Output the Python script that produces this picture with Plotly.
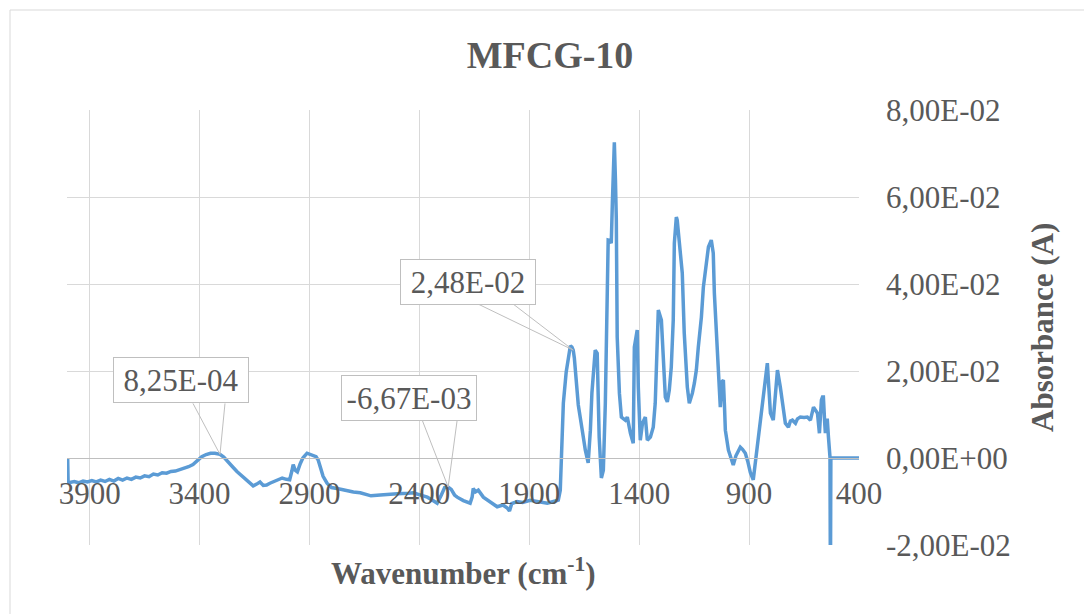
import plotly.graph_objects as go

# ---- data ----
wavenumber = [
    4000, 3998, 3990, 3970, 3950, 3930, 3910, 3890, 3870, 3850, 3830, 3810, 3790, 3770, 3750,
    3730, 3710, 3690, 3670, 3650, 3630, 3610, 3590, 3570, 3550, 3530, 3510, 3490, 3470, 3450,
    3430, 3410, 3390, 3370, 3350, 3330, 3307, 3290, 3270, 3250, 3230, 3210, 3190, 3170, 3156,
    3140, 3125, 3110, 3095, 3080, 3060, 3040, 3024, 3005, 2990, 2980, 2974, 2965, 2955, 2942,
    2930, 2911, 2895, 2883, 2870, 2860, 2845, 2838, 2820, 2800, 2774, 2750, 2700, 2669, 2620,
    2578, 2540, 2500, 2450, 2428, 2390, 2364, 2340, 2319, 2300, 2285, 2269, 2255, 2240, 2228,
    2200, 2169, 2160, 2155, 2145, 2132, 2109, 2080, 2046, 2020, 2000, 1990, 1980, 1955, 1930,
    1896, 1860, 1818, 1790, 1768, 1759, 1752, 1747, 1745, 1732, 1723, 1713, 1706, 1700, 1695,
    1686, 1677, 1659, 1645, 1632, 1622, 1615, 1609, 1600, 1591, 1582, 1572, 1563, 1554, 1545,
    1541, 1534, 1527, 1522, 1513, 1508, 1504, 1500, 1490, 1481, 1472, 1463, 1454, 1440, 1427,
    1422, 1409, 1404, 1395, 1385, 1372, 1363, 1349, 1336, 1327, 1318, 1313, 1299, 1290, 1281,
    1272, 1263, 1254, 1245, 1240, 1231, 1227, 1218, 1204, 1195, 1186, 1181, 1172, 1158, 1149,
    1140, 1131, 1117, 1108, 1095, 1085, 1072, 1063, 1058, 1049, 1040, 1031, 1024, 1017, 1012,
    1008, 994, 972, 960, 949, 940, 930, 917, 905, 894, 881, 870, 862, 849, 835,
    817, 810, 803, 790, 780, 771, 758, 745, 735, 721, 712, 703, 689, 680, 667,
    650, 635, 621, 607, 598, 589, 580, 575, 571, 566, 562, 556, 553, 548, 544,
    539, 532, 530, 528, 400,
]
absorbance = [
    0.0000, -0.0055, -0.0056, -0.0054, -0.0057, -0.0053, -0.0055, -0.0052, -0.0055, -0.0051, -0.0054, -0.0049, -0.0053, -0.0047, -0.0051,
    -0.0046, -0.0049, -0.0044, -0.0046, -0.0041, -0.0043, -0.0037, -0.0039, -0.0034, -0.0035, -0.0031, -0.0030, -0.0027, -0.0025, -0.0020,
    -0.0015, -0.0005, 0.0003, 0.0008, 0.0011, 0.0011, 0.000825, 0.0002, -0.0008, -0.0020, -0.0031, -0.0040, -0.0047, -0.0058, -0.0064,
    -0.0060, -0.0055, -0.0063, -0.0062, -0.0058, -0.0054, -0.0051, -0.0046, -0.0049, -0.0050, -0.0030, -0.0015, -0.0028, -0.0032, -0.0013,
    0.0000, 0.0011, 0.0008, 0.0005, 0.0003, -0.0005, -0.0030, -0.0042, -0.0058, -0.0068, -0.0070, -0.0073, -0.0078, -0.0080, -0.0087,
    -0.0085, -0.0083, -0.0082, -0.0081, -0.0080, -0.0086, -0.0090, -0.0097, -0.0104, -0.0085, -0.0068, -0.00667, -0.0072, -0.0085, -0.0090,
    -0.0098, -0.0104, -0.0090, -0.0070, -0.0078, -0.0074, -0.0090, -0.0100, -0.0112, -0.0108, -0.0115, -0.0122, -0.0105, -0.0100, -0.0102,
    -0.0097, -0.0100, -0.0104, -0.0100, -0.0097, -0.0074, 0.0011, 0.0080, 0.0126, 0.0198, 0.0230, 0.0258, 0.0255, 0.0248, 0.0230,
    0.0163, 0.0122, 0.0064, 0.0018, -0.0011, 0.0064, 0.0150, 0.0186, 0.0248, 0.0241, 0.0048, -0.0046, -0.0028, 0.0126, 0.0347,
    0.0501, 0.0500, 0.0494, 0.0586, 0.0726, 0.0640, 0.0547, 0.0278, 0.0149, 0.0094, 0.0090, 0.0087, 0.0094, 0.0057, 0.0034,
    0.0255, 0.0294, 0.0163, 0.0041, 0.0080, 0.0094, 0.0041, 0.0048, 0.0071, 0.0126, 0.0310, 0.0340, 0.0317, 0.0209, 0.0140,
    0.0129, 0.0156, 0.0209, 0.0317, 0.0494, 0.0554, 0.0547, 0.0501, 0.0425, 0.0287, 0.0209, 0.0163, 0.0126, 0.0149, 0.0172,
    0.0202, 0.0255, 0.0324, 0.0393, 0.0448, 0.0485, 0.0501, 0.0471, 0.0379, 0.0278, 0.0195, 0.0117, 0.0175, 0.0179, 0.0120,
    0.0064, 0.0018, -0.0016, 0.0005, 0.0018, 0.0025, 0.0020, 0.0011, -0.0010, -0.0034, -0.0050, -0.0005, 0.0041, 0.0087, 0.0149,
    0.0218, 0.0160, 0.0103, 0.0087, 0.0150, 0.0202, 0.0163, 0.0110, 0.0080, 0.0071, 0.0085, 0.0087, 0.0080, 0.0090, 0.0094,
    0.0093, 0.0094, 0.0087, 0.0117, 0.0110, 0.0103, 0.0057, 0.0120, 0.0133, 0.0140, 0.0140, 0.0080, 0.0057, 0.0087, 0.0087,
    0.0048, 0.0002, -0.0300, 0.0000, 0.0000,
]

x_ticks = [3900, 3400, 2900, 2400, 1900, 1400, 900, 400]
y_ticks = [-0.02, 0.0, 0.02, 0.04, 0.06, 0.08]
labelled_wavenumbers = [3307, 2269, 1700]


def excel_sci(v):
    return f"{v:.2E}".replace(".", ",")


FONT = "Liberation Serif, Times New Roman, serif"
TXT = "#595959"
GRID = "#D9D9D9"
LINE = "#5B9BD5"

fig = go.Figure()
fig.add_trace(go.Scatter(
    x=wavenumber, y=absorbance, mode="lines",
    line=dict(color=LINE, width=3.5), showlegend=False, hoverinfo="x+y",
))

# plot area in pixels: x 67..859, y 110..545
L, R, T, B = 67, 859, 110, 545
W, H = 1084, 614
pw, ph = R - L, B - T


def px_to_paper_x(px):
    return (px - L) / pw


def px_to_paper_y(py):
    return (B - py) / ph


# callouts: box centre offset (px) and wedge base points (px, relative to point; up positive)
callout_geom = [
    dict(ax=-39, ay=-74, legs=[(-27, 51), (5, 51)]),
    dict(ax=-39, ay=-89, legs=[(-26, 67), (9, 67)]),
    dict(ax=-105, ay=-68, legs=[(-95, 46), (-60, 46)]),
]

annotations = []
shapes = []
for wn, g in zip(labelled_wavenumbers, callout_geom):
    val = absorbance[wavenumber.index(wn)]
    for dx, dy in g["legs"]:
        shapes.append(dict(
            type="line", xref="x", yref="y", xsizemode="pixel", ysizemode="pixel",
            xanchor=wn, yanchor=val, x0=0, y0=0, x1=dx, y1=dy,
            line=dict(color="#BFBFBF", width=1),
        ))
    annotations.append(dict(
        x=wn, y=val, xref="x", yref="y", text=excel_sci(val),
        showarrow=True, arrowcolor="rgba(0,0,0,0)", ax=g["ax"], ay=g["ay"],
        bgcolor="white", bordercolor="#BFBFBF", borderwidth=1, borderpad=0,
        width=134, height=44, font=dict(family=FONT, size=31, color=TXT),
    ))

# axis titles
annotations.append(dict(
    x=px_to_paper_x(463), y=px_to_paper_y(571), xref="paper", yref="paper",
    text="<b>Wavenumber (cm<sup>-1</sup>)</b>", showarrow=False,
    xanchor="center", yanchor="middle", font=dict(family=FONT, size=31, color=TXT),
))
annotations.append(dict(
    x=px_to_paper_x(1042), y=px_to_paper_y(328), xref="paper", yref="paper",
    text="<b>Absorbance (A)</b>", showarrow=False, textangle=-90,
    xanchor="center", yanchor="middle", font=dict(family=FONT, size=31, color=TXT),
))

# chart-area border
shapes.append(dict(
    type="rect", xref="paper", yref="paper", layer="below",
    x0=px_to_paper_x(10), x1=px_to_paper_x(1095),
    y0=px_to_paper_y(625), y1=px_to_paper_y(10),
    line=dict(color=GRID, width=1), fillcolor="rgba(0,0,0,0)",
))

fig.update_layout(
    width=W, height=H,
    margin=dict(l=L, r=W - R, t=T, b=H - B),
    paper_bgcolor="white", plot_bgcolor="white",
    title=dict(text="<b>MFCG-10</b>", x=550 / W, xref="container", xanchor="center",
               y=1 - 55 / H, yref="container", yanchor="middle",
               font=dict(family=FONT, size=38, color=TXT)),
    xaxis=dict(
        range=[4003, 400], tickmode="array", tickvals=x_ticks,
        ticktext=[str(v) for v in x_ticks],
        showgrid=True, gridcolor=GRID, gridwidth=1, zeroline=False,
        anchor="free", position=(0 - y_ticks[0]) / (y_ticks[-1] - y_ticks[0]),
        showline=True, linecolor="#BFBFBF", linewidth=1, ticks="",
        ticklabelstandoff=8,
        tickfont=dict(family=FONT, size=31, color=TXT),
    ),
    yaxis=dict(
        range=[y_ticks[0], y_ticks[-1]], side="right", tickmode="array",
        tickvals=y_ticks, ticktext=[excel_sci(v) for v in y_ticks],
        showgrid=True, gridcolor=GRID, gridwidth=1, zeroline=False,
        showline=False, ticks="", ticklabelstandoff=26,
        tickfont=dict(family=FONT, size=31, color=TXT),
    ),
    annotations=annotations, shapes=shapes, showlegend=False,
)

fig.write_html("out.html")
